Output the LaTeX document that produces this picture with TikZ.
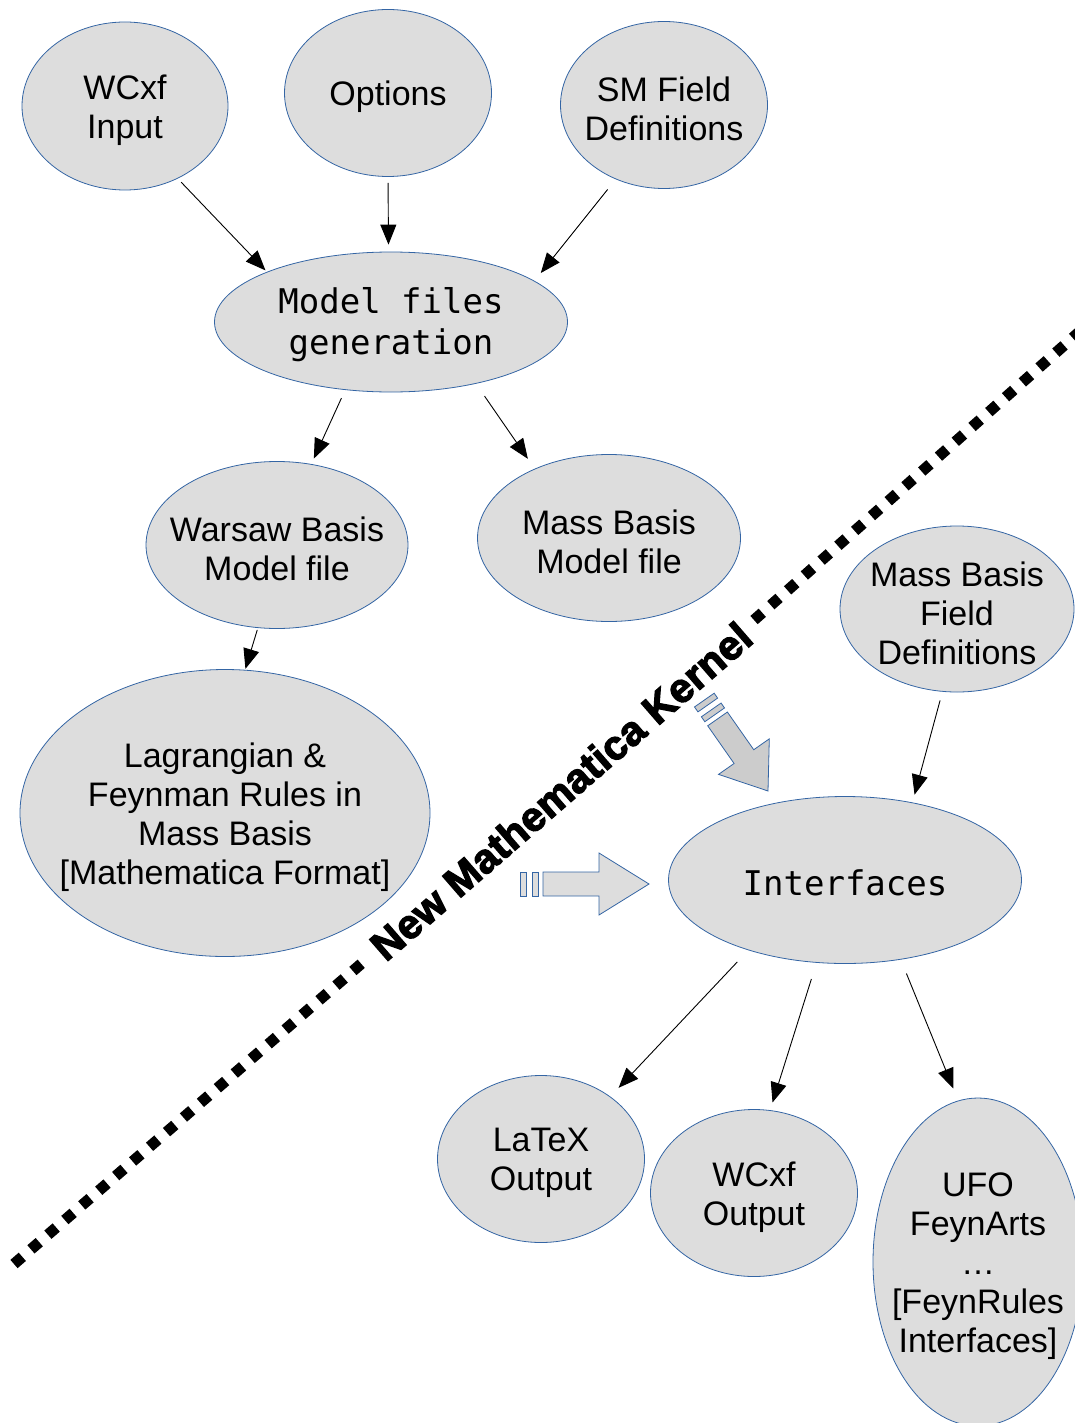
\documentclass[tikz,border=0pt]{standalone}
\usepackage{fontspec}
\setmainfont{Liberation Sans}
\setmonofont{DejaVu Sans Mono}
\newfontfamily\noyaufont{Liberation Sans}[BoldFeatures={FakeBold=3}, LetterSpace=0.8]
\usetikzlibrary{shapes.geometric,arrows.meta}

\definecolor{gris}{HTML}{DDDDDD}
\definecolor{grisfonce}{HTML}{CCCCCC}
\definecolor{bord}{HTML}{3465A4}

\tikzset{
  bulle/.style 2 args={ellipse, draw=bord, fill=gris, line width=0.8pt,
    minimum width=#1pt, minimum height=#2pt, inner sep=0pt},
  texte/.style={align=center, yshift=-4pt, font=\fontsize{34}{39}\selectfont},
  code/.style={align=center, yshift=-3pt, font=\ttfamily\fontsize{34}{41}\selectfont},
  fleche/.style={-{Triangle[length=20pt,width=16pt]}, line width=0.9pt},
  pointilles/.style={line width=11pt, dash pattern=on 11pt off 11.4pt},
  bloc/.style={draw=bord, line width=0.8pt},
}

% Grosse fleche creuse : corps #1, pointe #2, couleur #3
\newcommand{\blocfleche}[3]{%
  \draw[bloc, fill=#3] (0,0) -- (-#2,31) -- (-#2,12) -- (-#2-#1,12)
    -- (-#2-#1,-12) -- (-#2,-12) -- (-#2,-31) -- cycle;
  \draw[bloc, fill=#3] (-#2-#1-5,-12) rectangle ++(-6,24);
  \draw[bloc, fill=#3] (-#2-#1-17,-12) rectangle ++(-6,24);
}

\begin{document}
\begin{tikzpicture}[x=1pt, y=-1pt]
    \clip (0,0) rectangle (1075,1423);

    % Entrees
    \node[bulle={206}{168}, label={[texte]center:{WCxf\\Input}}] (wcxfin) at (125,106) {};
    \node[bulle={207}{167}, label={[texte]center:Options}] (options) at (388,93) {};
    \node[bulle={207}{167}, label={[texte]center:{SM Field\\Definitions}}] (smfield) at (664,105) {};

    % Generation des fichiers
    \node[bulle={353}{140}, label={[code]center:{Model files\\generation}}] (modelgen) at (391,322) {};
    \node[bulle={262}{167}, label={[texte]center:{Warsaw Basis\\Model file}}] (warsaw) at (277,545) {};
    \node[bulle={263}{167}, label={[texte]center:{Mass Basis\\Model file}}] (massmodel) at (609,538) {};
    \node[bulle={234}{166}, label={[texte]center:{Mass Basis\\Field\\Definitions}}] (massfield) at (957,609) {};
    \node[bulle={410}{287}, label={[texte]center:{Lagrangian \&\\Feynman Rules in\\Mass Basis\\{[Mathematica Format]}}}] (lagr) at (225,813) {};

    % Interfaces et sorties
    \node[bulle={353}{167}, label={[code]center:Interfaces}] (interf) at (845,880) {};
    \node[bulle={207}{167}, label={[texte]center:{LaTeX\\Output}}] (latexout) at (541,1159) {};
    \node[bulle={207}{167}, label={[texte]center:{WCxf\\Output}}] (wcxfout) at (754,1193) {};
    \node[bulle={210}{328}, label={[texte]center:{UFO\\FeynArts\\…\\{[FeynRules}\\Interfaces]}}] (ufo) at (978,1262) {};

    % Fleches
    \draw[fleche, shorten <=5pt, shorten >=2pt] (wcxfin.-54.5) -- (modelgen.158.7);
    \draw[fleche, shorten <=6pt, shorten >=7pt] (options.-90) -- (modelgen.92.2);
    \draw[fleche, shorten <=13pt, shorten >=10pt] (smfield.-123.2) -- (modelgen.16.6);
    \draw[fleche, shorten <=9pt, shorten >=6pt] (modelgen.-124.7) -- (warsaw.67.5);
    \draw[fleche, shorten <=15pt, shorten >=12pt] (modelgen.-36.8) -- (massmodel.137.5);
    \draw[fleche, shorten <=2pt, shorten >=1pt] (warsaw.-103.9) -- (lagr.82.4);
    \draw[fleche, shorten <=9pt, shorten >=8pt] (massfield.-100) -- (interf.49.9);
    \draw[fleche, shorten <=16pt, shorten >=12pt] (interf.-144.9) -- (latexout.42.7);
    \draw[fleche, shorten <=17pt, shorten >=8pt] (interf.-109.7) -- (wcxfout.79.3);
    \draw[fleche, shorten <=15pt, shorten >=13pt] (interf.-55.3) -- (ufo.97.9);

    % Frontiere du nouveau noyau
    \node[font=\noyaufont\bfseries\fontsize{41}{48}\selectfont, rotate=41, inner xsep=13pt] (noyau) at (561,791) {New Mathematica Kernel};
    \coordinate (noyaubas) at (14,1264);
    \coordinate (noyauhaut) at (1095,318);
    \draw[pointilles] (noyaubas) -- (noyau);
    \draw[pointilles] (noyau) -- (noyauhaut);

    % Grosses fleches vers les interfaces
    \begin{scope}[shift={(649,884)}]
        \blocfleche{56}{50}{gris}
    \end{scope}
    \begin{scope}[shift={(768,791)}, rotate=-55]
        \blocfleche{46}{42}{grisfonce}
    \end{scope}
\end{tikzpicture}
\end{document}
